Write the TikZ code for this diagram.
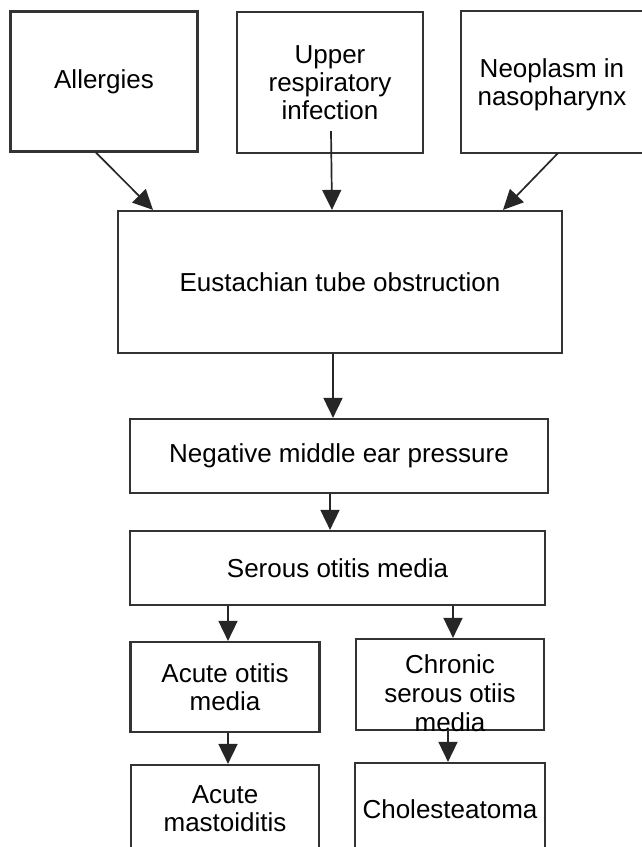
\documentclass[tikz,border=0pt]{standalone}
\usepackage{fontspec}
\setmainfont{Liberation Sans}
\usetikzlibrary{arrows.meta}
\tikzset{
  box/.style={draw=black!80, line width=2.2pt, inner sep=0pt, align=center,
    font=\fontsize{26}{28}\selectfont, text=black},
  boxline/.style={draw=black!80, line width=2.2pt},
  txt/.style={inner sep=0pt, align=center, font=\fontsize{26}{29}\selectfont, text=black},
  arr/.style={draw=black!85, line width=1.7pt, -{Triangle[length=20pt,width=19pt]}}
}
\begin{document}
\begin{tikzpicture}[x=1pt,y=-1pt]
\useasboundingbox (0,0) rectangle (641,847);
\node[box, minimum width=187pt, minimum height=140pt] (allergies) at (104,81.5) {Allergies};
\node[box, minimum width=186pt, minimum height=141pt] (upper) at (330,82.5) {Upper\\respiratory\\infection};
\node[box, draw=none, minimum width=188pt, minimum height=140pt] (neo) at (556,82) {};
\draw[boxline] (neo.north east) -- (neo.north west) -- (neo.south west) -- (neo.south east);
\node[txt, font=\fontsize{26}{28}\selectfont] (neotxt) at (552,85) {Neoplasm in\\nasopharynx};
\node[box, minimum width=444pt, minimum height=142pt] (eus) at (340,282) {Eustachian tube obstruction};
\node[box, minimum width=418pt, minimum height=74pt] (neg) at (339,456) {Negative middle ear pressure};
\node[box, minimum width=415pt, minimum height=74pt] (serous) at (337.5,568) {Serous otitis media};
\node[box, minimum width=189pt, minimum height=90pt] (aom) at (225,687) {Acute otitis\\media};
\node[box, minimum width=188pt, minimum height=91pt] (chronic) at (450,684.5) {};
\node[txt] (chronictxt) at (450,693) {Chronic\\serous otiis\\media};
\node[box, minimum width=188pt, minimum height=87pt] (mast) at (225,808.5) {Acute\\mastoiditis};
\node[box, minimum width=190pt, minimum height=93pt] (chol) at (450,809.5) {Cholesteatoma};

\draw[arr] ([xshift=-8pt]allergies.south) -- ([xshift=-187pt]eus.north);
\draw[arr] ([xshift=1pt,yshift=23pt]upper.south) -- ([xshift=-8pt]eus.north);
\draw[arr] ([xshift=2pt]neo.south) -- ([xshift=163pt]eus.north);
\draw[arr] ([xshift=-7pt]eus.south) -- ([xshift=-6pt]neg.north);
\draw[arr] ([xshift=-9pt]neg.south) -- ([xshift=-7.5pt]serous.north);
\draw[arr] ([xshift=-109.5pt]serous.south) -- ([xshift=3pt]aom.north);
\draw[arr] ([xshift=115.5pt]serous.south) -- ([xshift=3pt]chronic.north);
\draw[arr] ([xshift=3pt]aom.south) -- ([xshift=3pt]mast.north);
\draw[arr] ([xshift=-2pt]chronic.south) -- ([xshift=-2pt]chol.north);
\end{tikzpicture}
\end{document}
